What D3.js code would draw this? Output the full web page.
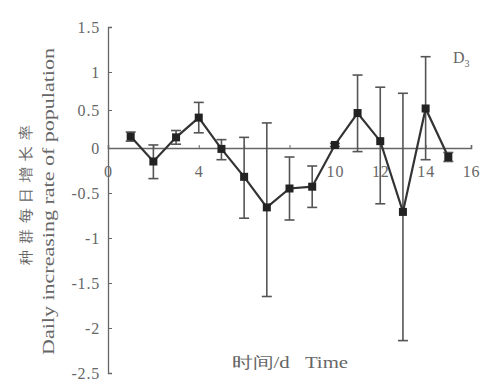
<!DOCTYPE html>
<html><head><meta charset="utf-8">
<script src="https://cdn.jsdelivr.net/npm/d3@7"></script>
<style>body{margin:0;background:#fff}svg{display:block}text{font-family:"Liberation Serif","DejaVu Serif",serif}</style>
</head><body><svg id="c" width="485" height="383"></svg>
<script>
const days = [1,2,3,4,5,6,7,8,9,10,11,12,13,14,15];
const rates = [0.15,-0.15,0.14,0.40,-0.01,-0.32,-0.66,-0.45,-0.43,0.04,0.46,0.09,-0.71,0.52,-0.10];
const errors = [0.06,0.19,0.09,0.20,0.12,0.46,0.99,0.35,0.23,0.02,0.50,0.71,1.43,0.65,0.05];
const xTicks = [0,2,4,6,8,10,12,14,16];
const xTickLabels = ["0","","4","","","10","12","14","16"];
const yTicks = [-2.5,-2,-1.5,-1,-0.5,0,0.5,1,1.5];
const yTickLabels = ["-2.5","-2","-1.5","-1","-0.5","0","0.5","1","1.5"];

const svg = d3.select("#c");
const x = d3.scaleLinear().domain([0,16]).range([108,471]);
const y = d3.scaleLinear().domain([-2.5,0,1,1.5]).range([373,148,72,27]);
const grey = "#666";

// y axis
const ya = svg.append("g").attr("transform",`translate(${x(0)},0)`)
  .call(d3.axisLeft(y).tickValues(yTicks).tickSize(-4).tickPadding(8)
    .tickFormat((d,i)=>yTickLabels[i]));
ya.select(".domain").attr("stroke",grey).attr("stroke-width",1.3);
ya.selectAll(".tick line").attr("stroke",grey);
ya.selectAll(".tick text").attr("fill",grey).attr("font-size",16).attr("letter-spacing",0.8);

// x axis at y=0
const xa = svg.append("g").attr("transform",`translate(0,${y(0)})`)
  .call(d3.axisBottom(x).tickValues(xTicks).tickSize(-3).tickPadding(18)
    .tickFormat((d,i)=>xTickLabels[i]));
xa.select(".domain").attr("stroke",grey).attr("stroke-width",1.6);
xa.selectAll(".tick line").attr("stroke",grey);
xa.selectAll(".tick text").attr("fill",grey).attr("font-size",16).attr("letter-spacing",0.8);

// error bars
const eb = svg.append("g").attr("stroke","#555").attr("stroke-width",1.6);
days.forEach((d,i)=>{
  const cx = x(d), t = y(rates[i]+errors[i]), b = y(rates[i]-errors[i]);
  eb.append("line").attr("x1",cx).attr("x2",cx).attr("y1",t).attr("y2",b);
  eb.append("line").attr("x1",cx-5).attr("x2",cx+5).attr("y1",t).attr("y2",t);
  eb.append("line").attr("x1",cx-5).attr("x2",cx+5).attr("y1",b).attr("y2",b);
});

// line
const pts = days.map((d,i)=>[d,rates[i]]);
svg.append("path").datum(pts)
  .attr("d", d3.line().x(p=>x(p[0])).y(p=>y(p[1])))
  .attr("fill","none").attr("stroke","#333").attr("stroke-width",2.2);

// markers
svg.append("g").selectAll("rect").data(pts).join("rect")
  .attr("x",p=>x(p[0])-4).attr("y",p=>y(p[1])-4)
  .attr("width",8).attr("height",8).attr("fill","#222");

// panel label
const lab = svg.append("text").attr("x",453).attr("y",63).attr("fill",grey).attr("font-size",16);
lab.append("tspan").text("D");
lab.append("tspan").attr("font-size",10).attr("dy",4).text("3");

// axis titles
svg.append("text").attr("x",232).attr("y",368)
  .attr("fill",grey).attr("font-size",16).attr("xml:space","preserve")
  .attr("textLength",116).attr("lengthAdjust","spacingAndGlyphs").text("时间/d   Time");
svg.append("text").attr("transform","translate(31,265) rotate(-90)")
  .attr("fill",grey).attr("font-size",15)
  .attr("textLength",140).attr("lengthAdjust","spacing").text("种群每日增长率");
svg.append("text").attr("transform","translate(54,355) rotate(-90)")
  .attr("fill",grey).attr("font-size",17)
  .attr("textLength",307).attr("lengthAdjust","spacingAndGlyphs").text("Daily increasing rate of population");
</script></body></html>
